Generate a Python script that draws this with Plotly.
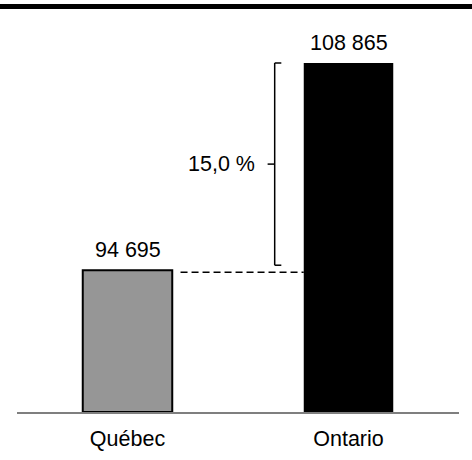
import plotly.graph_objects as go

# Salaire / revenu comparé : Québec vs Ontario
categories = ["Québec", "Ontario"]
values = [94695, 108865]
value_labels = ["94 695", "108 865"]
gap_label = "15,0 %"
bar_colors = ["#969696", "#000000"]

W, H = 472, 460
left, right, top, bottom = 17, 13, 10, 48
plot_w = W - left - right
plot_h = H - top - bottom

y_floor = 85000
# vertical scale: tallest bar reaches ~349 px above the floor
px_per_unit = 349 / (values[1] - y_floor)
y_top = y_floor + plot_h / px_per_unit
px = 1 / px_per_unit  # one pixel expressed in data units

font = dict(family="Liberation Sans, Arial, sans-serif", size=21.5, color="#000000")

fig = go.Figure()
fig.add_trace(go.Bar(
    x=[0, 1],
    y=[v - y_floor for v in values],
    base=y_floor,
    width=0.405,
    marker=dict(color=bar_colors,
                line=dict(color=["#000000", "#000000"], width=[2, 0])),
    hoverinfo="skip",
))

# value labels above bars
for i, (v, lab) in enumerate(zip(values, value_labels)):
    fig.add_annotation(x=i, y=v, text=lab, showarrow=False, xanchor="center",
                       yanchor="bottom", yshift=6, font=font)

q, o = values
# dashed reference line at Québec level
fig.add_shape(type="line", x0=0.24, x1=1 - 0.2025, y0=q - 2 * px, y1=q - 2 * px,
              line=dict(color="#000000", width=1.5, dash="7px,4px"))

# bracket spanning the gap between the two values
bx = 0.666
b_lo, b_hi = q + 5 * px, o
fig.add_shape(type="line", x0=bx, x1=bx, y0=b_lo, y1=b_hi,
              line=dict(color="#000000", width=1.5))
fig.add_shape(type="line", x0=bx, x1=bx + 0.03, y0=b_hi, y1=b_hi,
              line=dict(color="#000000", width=1.5))
fig.add_shape(type="line", x0=bx, x1=bx + 0.03, y0=b_lo, y1=b_lo,
              line=dict(color="#000000", width=1.5))
mid = (b_lo + b_hi) / 2
fig.add_shape(type="line", x0=bx - 0.032, x1=bx, y0=mid, y1=mid,
              line=dict(color="#000000", width=1.5))
fig.add_annotation(x=bx - 0.078, y=mid, text=gap_label, showarrow=False,
                   xanchor="right", yanchor="middle", font=font)

# heavy rule across the top of the page
fig.add_shape(type="line", xref="paper", yref="paper",
              x0=-left / plot_w, x1=1 + right / plot_w,
              y0=1 + 3.5 / plot_h, y1=1 + 3.5 / plot_h,
              line=dict(color="#000000", width=5))

fig.update_layout(
    width=W, height=H,
    margin=dict(l=left, r=right, t=top, b=bottom, pad=0),
    paper_bgcolor="white", plot_bgcolor="white",
    showlegend=False,
    xaxis=dict(range=[-0.5, 1.5], tickmode="array", tickvals=[0, 1],
               ticktext=categories, tickfont=font, showgrid=False,
               zeroline=False, showline=True, linecolor="#7f7f7f",
               linewidth=1.5, ticks="outside", ticklen=6,
               tickcolor="rgba(0,0,0,0)", fixedrange=True),
    yaxis=dict(range=[y_floor, y_top], visible=False, showgrid=False,
               zeroline=False, fixedrange=True),
)

fig.write_html("out.html")
